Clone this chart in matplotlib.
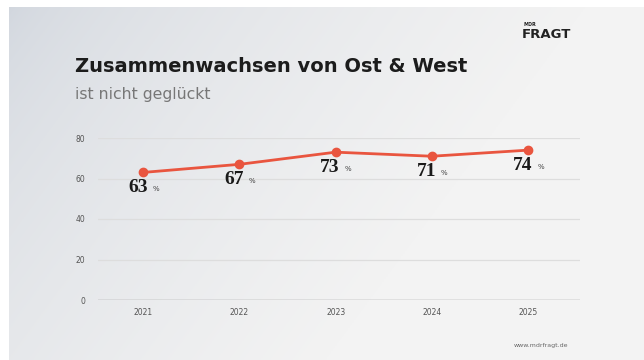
import numpy as np
import matplotlib.pyplot as plt

jahre = ["2021", "2022", "2023", "2024", "2025"]
werte = [63, 67, 73, 71, 74]
y_ticks = [0, 20, 40, 60, 80]

rot = "#e9553f"

fig = plt.figure(figsize=(6.44, 3.6), dpi=100)
fig.patch.set_facecolor("white")

# Hintergrund mit Verlauf (links/oben dunkler)
bg = fig.add_axes([9 / 644, 0, 1 - 9 / 644, 1 - 7 / 360])
gx = np.linspace(0, 1, 300)
gy = np.linspace(0, 1, 200)
X, Y = np.meshgrid(gx, gy)
t = np.clip(1.1 * X + 0.45 * Y, 0, 1) ** 0.6
c0 = np.array([0.82, 0.84, 0.87])
c1 = np.array([0.953, 0.953, 0.953])
img = c0[None, None, :] * (1 - t[..., None]) + c1[None, None, :] * t[..., None]
bg.imshow(img, aspect="auto", extent=[0, 1, 0, 1], origin="upper")
bg.axis("off")

ax = fig.add_axes([98 / 644, 60 / 360, 482 / 644, 162 / 360])
ax.set_facecolor("none")
x = np.arange(len(jahre))
ax.plot(x, werte, color=rot, lw=2.0, marker="o", ms=6, zorder=3)
ax.set_xlim(-0.47, 4.54)
ax.set_ylim(0, 80)
ax.set_yticks(y_ticks)
ax.set_xticks(x)
ax.set_xticklabels(jahre)
ax.tick_params(length=0, labelsize=5.5, labelcolor="#555555")
ax.tick_params(axis="y", pad=9)
ax.tick_params(axis="x", pad=6)
ax.grid(axis="y", color="#dddddd", lw=0.9)
ax.set_axisbelow(True)
for s in ax.spines.values():
    s.set_visible(False)
ax.axhline(0, color="#a0a0a0", lw=1.0)

for xi, v in zip(x, werte):
    ax.annotate(str(v), (xi, v), xytext=(-4, -5), textcoords="offset points",
                ha="center", va="top", fontsize=14, fontweight="bold",
                family="Liberation Serif", color="#1a1a1a")
    ax.annotate("%", (xi, v), xytext=(9, -10), textcoords="offset points",
                ha="center", va="top", fontsize=5, color="#444444")

fig.text(75 / 644, 1 - 66 / 360, "Zusammenwachsen von Ost & West", fontsize=14,
         fontweight="bold", color="#1c1c1c", va="center", ha="left")
fig.text(75 / 644, 1 - 95 / 360, "ist nicht geglückt", fontsize=11.3,
         color="#777777", va="center", ha="left")

fig.text(523 / 644, 1 - 25 / 360, "MDR", fontsize=3.5, fontweight="bold",
         color="#222222", ha="left", va="center")
fig.text(522 / 644, 1 - 34 / 360, "FRAGT", fontsize=9.5, fontweight="bold",
         color="#222222", ha="left", va="center")
fig.text(541 / 644, 1 - 346 / 360, "www.mdrfragt.de", fontsize=4.5,
         color="#666666", ha="center", va="center")

fig.savefig("out.png", dpi=100)
